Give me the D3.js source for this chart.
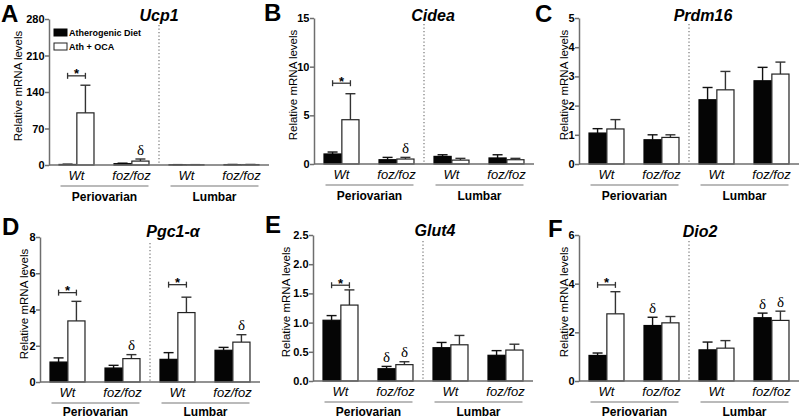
<!DOCTYPE html>
<html><head><meta charset="utf-8">
<script src="https://cdn.jsdelivr.net/npm/d3@7"></script>
<style>
body{margin:0;background:#fff}
svg{display:block}
text{font-family:"Liberation Sans",Arial,Helvetica,sans-serif;fill:#000}
</style>
</head><body>
<svg id="chart" width="800" height="418"></svg>
<script>
// ---------- data ----------
const categories = ["Wt", "foz/foz", "Wt", "foz/foz"];
const regions = ["Periovarian", "Lumbar"];
const seriesNames = ["Atherogenic Diet", "Ath + OCA"];
const genes = ["Ucp1", "Cidea", "Prdm16", "Pgc1-\u03B1", "Glut4", "Dio2"];
const panelLetters = ["A", "B", "C", "D", "E", "F"];

// mean values and upper error (mean + SEM) per category
const ucp1Ath = [1.0, 2.5, 0.5, 0.8];
const ucp1AthErr = [1.5, 3.5, 0.7, 1.0];
const ucp1Oca = [100, 7.5, 0.5, 0.8];
const ucp1OcaErr = [153, 11.5, 0.7, 1.0];
const ucp1Ticks = [0, 70, 140, 210, 280];

const cideaAth = [1.03, 0.44, 0.78, 0.62];
const cideaAthErr = [1.23, 0.68, 0.95, 0.95];
const cideaOca = [4.55, 0.51, 0.4, 0.44];
const cideaOcaErr = [7.22, 0.68, 0.58, 0.58];
const cideaTicks = [0, 5, 10, 15];

const prdm16Ath = [1.06, 0.83, 2.2, 2.85];
const prdm16AthErr = [1.21, 1.0, 2.62, 3.31];
const prdm16Oca = [1.2, 0.91, 2.54, 3.08];
const prdm16OcaErr = [1.52, 1.0, 3.17, 3.49];
const prdm16Ticks = [0, 1, 2, 3, 4, 5];

const pgc1aAth = [1.1, 0.77, 1.25, 1.75];
const pgc1aAthErr = [1.33, 0.92, 1.62, 1.91];
const pgc1aOca = [3.37, 1.29, 3.83, 2.2];
const pgc1aOcaErr = [4.45, 1.51, 4.68, 2.61];
const pgc1aTicks = [0, 2, 4, 6, 8];

const glut4Ath = [1.04, 0.21, 0.57, 0.44];
const glut4AthErr = [1.12, 0.25, 0.66, 0.52];
const glut4Oca = [1.3, 0.28, 0.62, 0.53];
const glut4OcaErr = [1.56, 0.33, 0.78, 0.63];
const glut4Ticks = [0, 0.5, 1.0, 1.5, 2.0, 2.5];

const dio2Ath = [1.05, 2.28, 1.28, 2.6];
const dio2AthErr = [1.15, 2.62, 1.6, 2.79];
const dio2Oca = [2.76, 2.39, 1.35, 2.49];
const dio2OcaErr = [3.67, 2.65, 1.66, 2.87];
const dio2Ticks = [0, 2, 4, 6];

// significance brackets (*): [category index, value level]
const ucp1Stars = [[0, 171]];
const cideaStars = [[0, 8.3]];
const prdm16Stars = [];
const pgc1aStars = [[0, 4.93], [2, 5.37]];
const glut4Stars = [[0, 1.64]];
const dio2Stars = [[0, 3.95]];

// delta markers: [category index, series index]
const ucp1Deltas = [[1, 1]];
const cideaDeltas = [[1, 1]];
const prdm16Deltas = [];
const pgc1aDeltas = [[1, 1], [3, 1]];
const glut4Deltas = [[1, 0], [1, 1]];
const dio2Deltas = [[1, 0], [3, 0], [3, 1]];

// ---------- layout (positions only) ----------
const layouts = [
  {x: 49,  top: 19,  bottom: 165, ytx: 18,  ttx: 159, tty: 20.5, lx: 1,   ly: 22,  rl: 36,   tickFmt: d3.format("d")},
  {x: 314, top: 18,  bottom: 164, ytx: 292.5, ttx: 433, tty: 20.5, lx: 264, ly: 21,  rl: 36,   tickFmt: d3.format("d")},
  {x: 579, top: 18,  bottom: 164, ytx: 564, ttx: 703, tty: 20.5, lx: 535, ly: 22,  rl: 36,   tickFmt: d3.format("d")},
  {x: 40,  top: 237, bottom: 382, ytx: 23.5, ttx: 173, tty: 237,  lx: 2,   ly: 235, rl: 33.5, tickFmt: d3.format("d")},
  {x: 313, top: 235, bottom: 381, ytx: 285.5, ttx: 435, tty: 236,  lx: 265, ly: 233, rl: 34.5, tickFmt: d3.format(".1f")},
  {x: 579, top: 235, bottom: 381, ytx: 564, ttx: 700, tty: 237,  lx: 548, ly: 237, rl: 34.5, tickFmt: d3.format("d")}
];

const panels = [
  {ath: ucp1Ath, athErr: ucp1AthErr, oca: ucp1Oca, ocaErr: ucp1OcaErr, ticks: ucp1Ticks, stars: ucp1Stars, deltas: ucp1Deltas},
  {ath: cideaAth, athErr: cideaAthErr, oca: cideaOca, ocaErr: cideaOcaErr, ticks: cideaTicks, stars: cideaStars, deltas: cideaDeltas},
  {ath: prdm16Ath, athErr: prdm16AthErr, oca: prdm16Oca, ocaErr: prdm16OcaErr, ticks: prdm16Ticks, stars: prdm16Stars, deltas: prdm16Deltas},
  {ath: pgc1aAth, athErr: pgc1aAthErr, oca: pgc1aOca, ocaErr: pgc1aOcaErr, ticks: pgc1aTicks, stars: pgc1aStars, deltas: pgc1aDeltas},
  {ath: glut4Ath, athErr: glut4AthErr, oca: glut4Oca, ocaErr: glut4OcaErr, ticks: glut4Ticks, stars: glut4Stars, deltas: glut4Deltas},
  {ath: dio2Ath, athErr: dio2AthErr, oca: dio2Oca, ocaErr: dio2OcaErr, ticks: dio2Ticks, stars: dio2Stars, deltas: dio2Deltas}
];

const svg = d3.select("#chart");
const axisColor = "#6e6e6e";
const plotW = 220;

panels.forEach((p, i) => {
  const L = layouts[i];
  const g = svg.append("g");
  const yMax = p.ticks[p.ticks.length - 1];
  const y = d3.scaleLinear().domain([0, yMax]).range([L.bottom, L.top]);
  const x = d3.scaleBand().domain(d3.range(categories.length))
    .range([L.x, L.x + plotW]).paddingInner(0.364).paddingOuter(0.182);
  const xs = d3.scaleBand().domain([0, 1]).range([0, x.bandwidth()]).paddingInner(0.04);

  // panel letter
  g.append("text").attr("x", L.lx).attr("y", L.ly)
    .style("font-size", "24px").style("font-weight", "bold").text(panelLetters[i]);
  // gene title
  g.append("text").attr("x", L.ttx).attr("y", L.tty).attr("text-anchor", "middle")
    .style("font-size", "16px").style("font-weight", "bold").style("font-style", "italic")
    .text(genes[i]);

  // y axis title
  g.append("text")
    .attr("transform", `translate(${L.ytx},${L.top + 67}) rotate(-90)`)
    .attr("text-anchor", "middle").attr("dy", "0.35em")
    .style("font-size", "11.5px").text("Relative mRNA levels");

  // dotted separator
  g.append("line")
    .attr("x1", L.x + plotW / 2).attr("x2", L.x + plotW / 2)
    .attr("y1", L.top + 6).attr("y2", L.bottom)
    .attr("stroke", "#777").attr("stroke-width", 1.2).attr("stroke-dasharray", "1.3,2.2");

  // bars
  const seriesVals = [p.ath, p.oca];
  const seriesErr = [p.athErr, p.ocaErr];
  [0, 1].forEach(s => {
    const bx = c => x(c) + xs(s);
    // error whiskers
    g.selectAll(null).data(d3.range(categories.length)).enter().append("line")
      .attr("x1", c => bx(c) + xs.bandwidth() / 2).attr("x2", c => bx(c) + xs.bandwidth() / 2)
      .attr("y1", c => y(seriesVals[s][c])).attr("y2", c => y(seriesErr[s][c]))
      .attr("stroke", s === 0 ? "#111" : "#333").attr("stroke-width", 1.4);
    g.selectAll(null).data(d3.range(categories.length)).enter().append("line")
      .attr("x1", c => bx(c) + xs.bandwidth() / 2 - 5).attr("x2", c => bx(c) + xs.bandwidth() / 2 + 5)
      .attr("y1", c => y(seriesErr[s][c])).attr("y2", c => y(seriesErr[s][c]))
      .attr("stroke", s === 0 ? "#111" : "#333").attr("stroke-width", 1.4);
    g.selectAll(null).data(d3.range(categories.length)).enter().append("rect")
      .attr("x", c => bx(c)).attr("width", xs.bandwidth())
      .attr("y", c => y(seriesVals[s][c])).attr("height", c => y(0) - y(seriesVals[s][c]))
      .attr("fill", s === 0 ? "#050505" : "#fff")
      .attr("stroke", s === 0 ? "#050505" : "#222").attr("stroke-width", 1.2);
  });

  // y axis
  const yAxis = d3.axisLeft(y).tickValues(p.ticks).tickFormat(L.tickFmt).tickSize(4).tickSizeOuter(0).tickPadding(0.5);
  const ya = g.append("g").attr("transform", `translate(${L.x},0)`).call(yAxis);
  ya.select(".domain").attr("stroke", axisColor).attr("stroke-width", 1.5);
  ya.selectAll(".tick line").attr("stroke", axisColor).attr("stroke-width", 1.5);
  ya.selectAll(".tick text").style("font-size", "11px").style("font-weight", "bold")
    .style("font-family", "'Liberation Sans',Arial,sans-serif").attr("fill", "#000");

  // x axis line
  g.append("line").attr("x1", L.x).attr("x2", L.x + plotW)
    .attr("y1", L.bottom).attr("y2", L.bottom)
    .attr("stroke", axisColor).attr("stroke-width", 1.5);

  // category labels
  g.selectAll(null).data(categories).enter().append("text")
    .attr("x", (d, c) => x(c) + x.bandwidth() / 2).attr("y", L.bottom + 15)
    .attr("text-anchor", "middle").style("font-size", "13px").style("font-style", "italic")
    .text(d => d);

  // region underline + labels
  regions.forEach((r, ri) => {
    const c0 = x(ri * 2) + x.bandwidth() / 2;
    const c1 = x(ri * 2 + 1) + x.bandwidth() / 2;
    g.append("line").attr("x1", c0 - 16).attr("x2", c1 + 17)
      .attr("y1", L.bottom + 21).attr("y2", L.bottom + 21)
      .attr("stroke", "#777").attr("stroke-width", 1.2);
    g.append("text").attr("x", (c0 + c1) / 2 + 0.5).attr("y", L.bottom + L.rl)
      .attr("text-anchor", "middle").style("font-size", "12px").style("font-weight", "bold")
      .text(r);
  });

  // star brackets
  p.stars.forEach(([c, v]) => {
    const xa = x(c) + xs(0) + xs.bandwidth() / 2;
    const xb = x(c) + xs(1) + xs.bandwidth() / 2;
    const yy = y(v);
    const bg = g.append("g").attr("stroke", "#333").attr("stroke-width", 1.3);
    bg.append("line").attr("x1", xa).attr("x2", xb).attr("y1", yy).attr("y2", yy);
    bg.append("line").attr("x1", xa).attr("x2", xa).attr("y1", yy - 3).attr("y2", yy + 3);
    bg.append("line").attr("x1", xb).attr("x2", xb).attr("y1", yy - 3).attr("y2", yy + 3);
    g.append("text").attr("x", (xa + xb) / 2).attr("y", yy + 2.5).attr("text-anchor", "middle")
      .style("font-size", "13px").style("font-weight", "bold").text("*");
  });

  // delta markers
  p.deltas.forEach(([c, s]) => {
    const xc = x(c) + xs(s) + xs.bandwidth() / 2;
    const errTop = s === 0 ? p.athErr[c] : p.ocaErr[c];
    g.append("text").attr("x", xc).attr("y", y(errTop) - 4.5).attr("text-anchor", "middle")
      .style("font-family", "'Liberation Serif','DejaVu Serif',serif").style("font-size", "15px")
      .text("\u03B4");
  });

  // legend (panel A only)
  if (i === 0) {
    const lg = g.append("g");
    seriesNames.forEach((n, s) => {
      lg.append("rect").attr("x", 54).attr("y", 29 + s * 14).attr("width", 13).attr("height", 7)
        .attr("fill", s === 0 ? "#050505" : "#fff").attr("stroke", s === 0 ? "#050505" : "#222")
        .attr("stroke-width", 1);
      lg.append("text").attr("x", 69).attr("y", 36 + s * 14)
        .style("font-size", "9px").style("font-weight", "bold").text(n);
    });
  }
});
</script>
</body></html>
